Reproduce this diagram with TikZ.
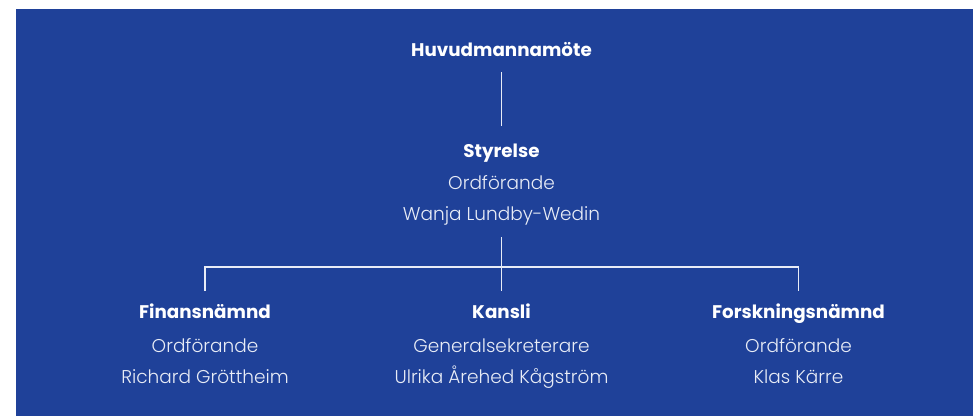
\documentclass[tikz,border=0pt]{standalone}
\usepackage{fontspec}
\setmainfont{Poppins}[UprightFont={* Light},BoldFont={* Bold}]
\definecolor{bgblue}{HTML}{1F4199}
\definecolor{softwhite}{HTML}{E8ECF6}
\begin{document}
\begin{tikzpicture}[x=1pt,y=1pt,
  title/.style={anchor=base,inner sep=0pt,text=white,font=\fontsize{18.3}{22}\selectfont\bfseries},
  line/.style={anchor=base,inner sep=0pt,text=softwhite,font=\fontsize{18.5}{22}\selectfont},
  conn/.style={draw=softwhite,line width=1.3pt}]
\useasboundingbox (0,0) rectangle (973,-416);
\fill[bgblue] (16,-9) rectangle (973,-416);
% top
\node[title] (hm) at (501.5,-56.7) {Huvudmannamöte};
% board
\node[title] (st) at (501.5,-157) {Styrelse};
\node[line] (sto) at (501.5,-189) {Ordförande};
\node[line] (stn) at (501.5,-220.5) {Wanja Lundby-Wedin};
% left
\node[title] (ft) at (205,-318.5) {Finansnämnd};
\node[line] (fo) at (205,-352) {Ordförande};
\node[line] (fn) at (205,-383.5) {Richard Gröttheim};
% middle
\node[title] (kt) at (501.5,-318.5) {Kansli};
\node[line] (ko) at (501.5,-352) {Generalsekreterare};
\node[line] (kn) at (501.5,-383.5) {Ulrika Årehed Kågström};
% right
\node[title] (rt) at (798.5,-318.5) {Forskningsnämnd};
\node[line] (ro) at (798.5,-352) {Ordförande};
\node[line] (rn) at (798.5,-383.5) {Klas Kärre};
% connectors
\draw[conn] ([yshift=-15.3pt]hm.base) -- ([yshift=31pt]st.base);
\draw[conn] ([yshift=-16.5pt]stn.base) -- ([yshift=27.5pt]kt.base);
\draw[conn] ([yshift=27.5pt]ft.base) -- ++(0,24) -| ([yshift=27.5pt]rt.base);
\end{tikzpicture}
\end{document}
